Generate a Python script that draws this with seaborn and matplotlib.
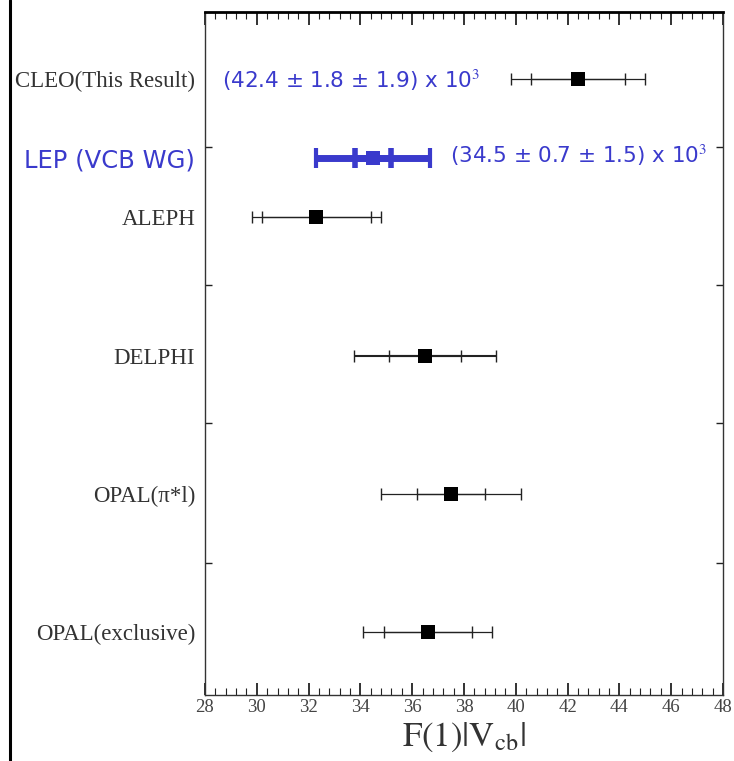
import matplotlib
matplotlib.use("Agg")
import matplotlib.pyplot as plt
from matplotlib.lines import Line2D
import seaborn as sns
import pandas as pd

# Measurements of F(1)|Vcb| (units of 10^-3)
experiments = ["CLEO(This Result)", "LEP (VCB WG)", "ALEPH", "DELPHI",
               "OPAL(π*l)", "OPAL(exclusive)"]
central = [42.4, 34.5, 32.3, 36.5, 37.5, 36.6]
stat_err = [1.8, 0.7, 2.1, 1.4, 1.3, 1.7]      # inner ticks
total_err = [2.6, 2.2, 2.5, 2.75, 2.7, 2.5]    # outer caps
x_ticks = [28, 30, 32, 34, 36, 38, 40, 42, 44, 46, 48]
cleo_text = "(42.4 ± 1.8 ± 1.9) x 10$^3$"
lep_text = "(34.5 ± 0.7 ± 1.5) x 10$^3$"

# vertical placement of the rows (axis runs top-down)
row_y = [79, 158, 217, 356, 494, 632]

df = pd.DataFrame({"exp": experiments, "val": central, "stat": stat_err,
                   "tot": total_err, "y": row_y})

sns.set_theme(style="white")
plt.rcParams["mathtext.fontset"] = "stix"

BLUE = "#3a3acc"
INK = "#222222"

fig = plt.figure(figsize=(7.34, 7.61), dpi=100)
ax = fig.add_axes([205 / 734, 66 / 761, 518 / 734, 683 / 761])

for i, r in df.iterrows():
    lep = r["exp"].startswith("LEP")
    col = BLUE if lep else INK
    lw = 5.0 if lep else (1.5 if r["exp"] == "DELPHI" else 0.9)
    cs = 7.5 if lep else 4.5
    ct = 3.0 if lep else 1.0
    ax.errorbar(r["val"], r["y"], xerr=r["tot"], fmt="none", ecolor=col,
                elinewidth=lw, capsize=cs, capthick=ct, zorder=2)
    ax.errorbar(r["val"], r["y"], xerr=r["stat"], fmt="none", ecolor=col,
                elinewidth=lw, capsize=cs * (0.95 if lep else 1.0),
                capthick=(4.0 if lep else 1.0), zorder=2)

sns.scatterplot(data=df[df["exp"] != "LEP (VCB WG)"], x="val", y="y",
                marker="s", s=95, color="black", edgecolor="black",
                linewidth=0, ax=ax, zorder=3, legend=False)
sns.scatterplot(data=df[df["exp"] == "LEP (VCB WG)"], x="val", y="y",
                marker="s", s=110, color=BLUE, edgecolor=BLUE,
                linewidth=0, ax=ax, zorder=3, legend=False)

ax.set_xlim(28, 48)
ax.set_ylim(695, 12)

# value annotations
ax.text(28.66, 80, cleo_text, color=BLUE, fontsize=15.5,
        family="DejaVu Sans", va="center", ha="left")
ax.text(37.46, 155, lep_text, color=BLUE, fontsize=15.5,
        family="DejaVu Sans", va="center", ha="left")

# experiment names as y tick labels
ax.set_yticks(row_y)
ax.set_yticklabels(experiments)
for lab in ax.get_yticklabels():
    if lab.get_text().startswith("LEP"):
        lab.set_family("DejaVu Sans")
        lab.set_fontsize(17.5)
        lab.set_color(BLUE)
    else:
        lab.set_family("Liberation Serif")
        lab.set_fontsize(16.5)
        lab.set_color("#333333")
ax.tick_params(axis="y", which="major", length=0, pad=7)
ax.set_yticks([147, 285, 423, 563], minor=True)
ax.tick_params(axis="y", which="minor", direction="in", left=True,
               right=True, length=5, width=1, color=INK)

ax.set_xticks(x_ticks)
ax.set_xticks([x_ticks[0] + 0.4 * k for k in range(51)], minor=True)
ax.set_xticklabels([str(t) for t in x_ticks], family="Liberation Serif",
                   fontsize=13.5, color="#444444")
ax.tick_params(axis="x", which="major", direction="in", top=True,
               bottom=True, length=9, width=1.3, color=INK, pad=3)
ax.tick_params(axis="x", which="minor", direction="in", top=True,
               bottom=True, length=5, width=0.8, color=INK)

for side in ["left", "right", "bottom"]:
    ax.spines[side].set_linewidth(1.0)
    ax.spines[side].set_color("#333333")
ax.spines["top"].set_linewidth(2.0)
ax.spines["top"].set_color("black")

ax.set_xlabel(r"$\mathrm{F(1)|V_{cb}|}$", fontsize=25, color="#333333",
              labelpad=3)
ax.set_ylabel("")

# frame line at the left edge of the figure
fig.add_artist(Line2D([10 / 734, 10 / 734], [0, 1], color="black",
                      linewidth=2.2, transform=fig.transFigure))

fig.savefig("out.png", dpi=100, facecolor="white")
